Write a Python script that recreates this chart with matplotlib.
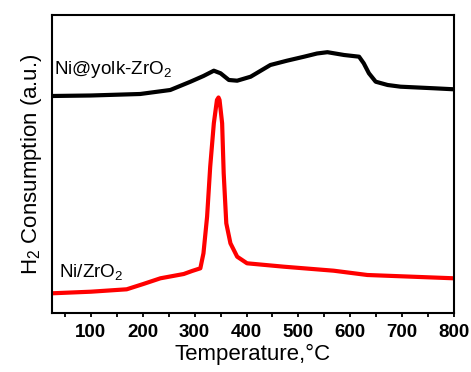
import matplotlib
matplotlib.use("Agg")
import matplotlib.pyplot as plt

plt.rcParams['font.family'] = ['Liberation Sans', 'DejaVu Sans']
plt.rcParams['mathtext.fontset'] = 'custom'
plt.rcParams['mathtext.rm'] = 'Liberation Sans'
plt.rcParams['mathtext.default'] = 'regular'

# Ni@yolk-ZrO2 (black)
yolk_T = [25, 100, 195, 253, 292, 317, 337, 350, 366, 382, 408, 446, 478, 511, 536, 556,
          588, 617, 626, 636, 649, 672, 697, 762, 800]
yolk_S = [217, 217.5, 219, 223, 231.3, 237, 242.3, 239.7, 233, 232.3, 236.3, 248, 252.3, 256.3, 259.5, 260.8,
          258, 256.3, 249.7, 239.7, 231.3, 228, 226.3, 224.7, 223.7]

# Ni/ZrO2 (red)
ni_T = [25, 100, 169, 201, 234, 279, 295, 311, 317, 324, 330, 337, 343, 346, 348, 353, 356, 361, 369, 382, 401,
        472, 568, 633, 800]
ni_S = [19.7, 21.3, 23.7, 29, 34.7, 39, 42, 44.7, 59.7, 96.3, 146.3, 189.7, 213, 215.5, 213, 189.7, 139.7, 89.7,
        69.7, 56.3, 49.7, 46.3, 42.3, 38, 34.7]

xticks = [100, 200, 300, 400, 500, 600, 700, 800]

fig = plt.figure(figsize=(4.71, 3.72), dpi=100)
ax = fig.add_axes([0.1104, 0.1586, 0.8535, 0.8011])

ax.plot(yolk_T, yolk_S, color='black', lw=3.0, solid_joinstyle='round')
ax.plot(ni_T, ni_S, color='#ff0000', lw=3.0, solid_joinstyle='round')

ax.set_xlim(25, 800)
ax.set_ylim(0, 298)
ax.set_xticks(xticks)
ax.set_xticks(list(range(50, 801, 100)), minor=True)
ax.set_yticks([])
ax.tick_params(axis='x', which='both', direction='out', length=3, width=1.3, pad=5)
ax.set_xticklabels([str(t) for t in xticks], fontsize=13.5, fontweight='bold')
for s in ax.spines.values():
    s.set_linewidth(1.5)

ax.set_xlabel('Temperature,\u00b0C', fontsize=16, labelpad=2)
ax.set_ylabel('H$_2$ Consumption (a.u.)', fontsize=16, labelpad=6)

ax.text(29, 239, 'Ni@yolk-ZrO$_2$', fontsize=13.6, va='baseline', ha='left')
ax.text(39, 36.3, 'Ni/ZrO$_2$', fontsize=13.6, va='baseline', ha='left')

fig.savefig('out.png', dpi=100)
